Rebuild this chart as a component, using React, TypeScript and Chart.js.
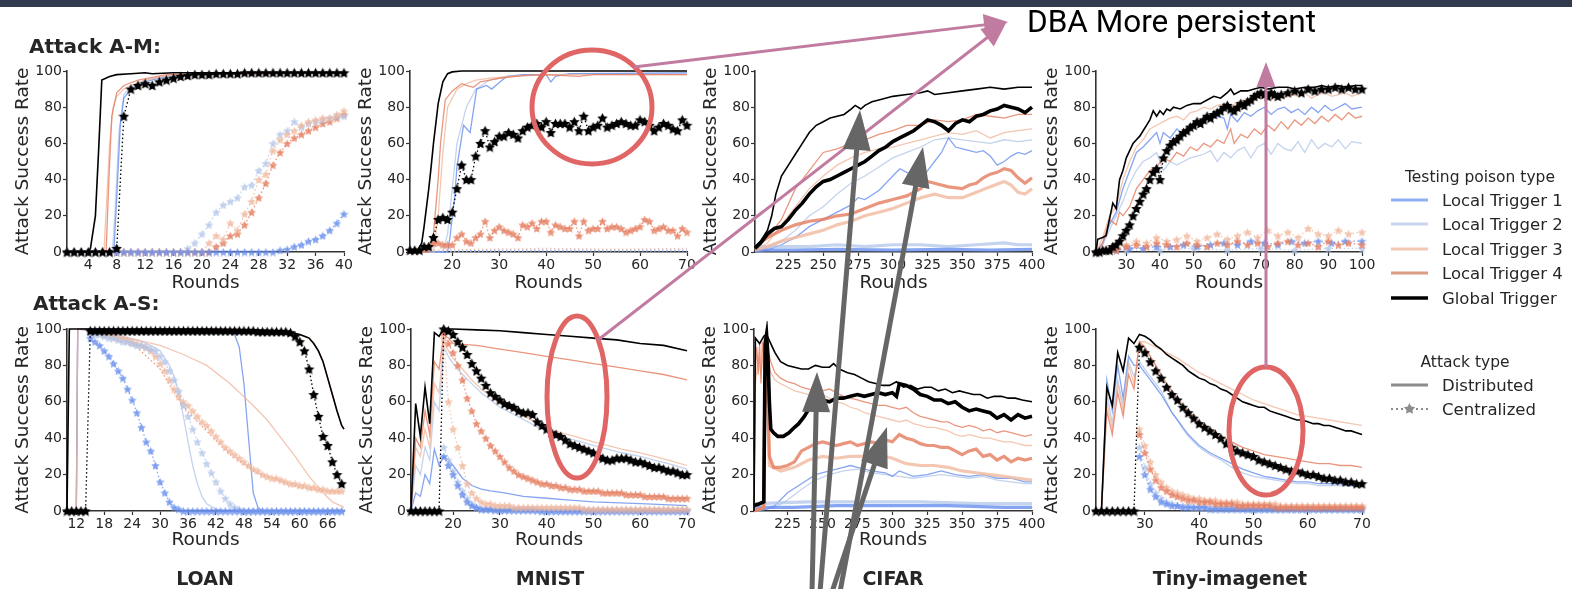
import React, { useEffect, useRef } from 'react';
import { Chart, registerables } from 'chart.js';
Chart.register(...registerables);

type P = [number, number];
const seq = (start: number, vals: number[]): P[] => vals.map((v, i) => [start + i, v] as P);

// ---------------- tick labels ----------------
const Y_TICKS = [0, 20, 40, 60, 80, 100];
const LOAN_AM_TICKS = [4, 8, 12, 16, 20, 24, 28, 32, 36, 40];
const MNIST_TICKS = [20, 30, 40, 50, 60, 70];
const CIFAR_TICKS = [225, 250, 275, 300, 325, 350, 375, 400];
const TINY_AM_TICKS = [30, 40, 50, 60, 70, 80, 90, 100];
const LOAN_AS_TICKS = [12, 18, 24, 30, 36, 42, 48, 54, 60, 66];
const TINY_AS_TICKS = [30, 40, 50, 60, 70];

const LEGEND_TRIGGERS = ['Local Trigger 1', 'Local Trigger 2', 'Local Trigger 3', 'Local Trigger 4', 'Global Trigger'];
const LEGEND_ATTACKS = ['Distributed', 'Centralized'];
const DATASETS = ['LOAN', 'MNIST', 'CIFAR', 'Tiny-imagenet'];

// ---------------- LOAN, Attack A-M ----------------
const LOAN_AM_D_LT1: P[] = [[1,0],[7.6,0],[8,30],[8.5,70],[9,85],[10,90],[12,94],[14,96],[18,98],[24,99],[40,99]];
const LOAN_AM_D_LT2: P[] = [[1,0],[7.4,0],[7.8,25],[8.3,65],[9,87],[10,91],[12,95],[16,98],[40,99]];
const LOAN_AM_D_LT3: P[] = [[1,0],[6.2,0],[6.6,30],[7,60],[7.5,80],[8,86],[9,90],[10,92],[12,95],[16,98],[40,99]];
const LOAN_AM_D_LT4: P[] = [[1,0],[6.5,0],[6.9,40],[7.3,75],[8,88],[9,92],[11,95],[15,98],[40,99]];
const LOAN_AM_D_GL: P[] = [[1,0],[4,0],[4.3,2],[5,20],[5.5,60],[5.9,95],[7,97],[8,98],[10,98.5],[12,99],[13,98.5],[16,99],[40,99]];
const LOAN_AM_C_LT1 = seq(1, [0,0,0,0,0,0,0,0,0,0, 0,0,0,0,0,0,0,0,0,0, 0,0,0,0,0,0,0,0,0,0, 1,1.5,3,4,6,7,9,12,16,21]);
const LOAN_AM_C_LT2 = seq(1, [0,0,0,0,0,0,0,0,0,0, 0,0,0,0,0,0,0, 2,5,10,15,22,26,28,30,36,37,45,49,60,65,67,72,69,71,72,73,74,75,75]);
const LOAN_AM_C_LT3 = seq(1, [0,0,0,0,0,0,0,0,0,0, 0,0,0,0,0,0,0,0,0,0, 5,9,7,16,12,21,28,40,43,56,62,65,67,70,72,73,74,74,76,78]);
const LOAN_AM_C_LT4 = seq(1, [0,0,0,0,0,0,0,0,0,0, 0,0,0,0,0,0,0,0,0,0, 0, 3,5,9,10,15,22,30,38,48,55,60,63,65,67,69,71,72,74,76]);
const LOAN_AM_C_GL = seq(1, [0,0,0,0,0,0,0,2,75,90,92,93,92,94,95,96,97,97.5,98,98,98,98.5,98.5,98.5,98.5,99,99,99,99,99,99,99,99,99,99,99,99,99,99,99]);

// ---------------- MNIST, Attack A-M ----------------
const MNIST_AM_D_LT1: P[] = [[11,0],[19,0],[19.5,8],[20.5,30],[21,47],[22.4,70],[23.8,66],[25.2,90],[27.3,92],[28.4,90],[30.2,94],[31.6,97],[35,98],[40,98],[41,94],[42,97],[45,98.5],[70,99]];
const MNIST_AM_D_LT2: P[] = [[11,0],[18,0],[19,10],[20,35],[21,60],[23,80],[25,90],[28,95],[32,97],[40,98],[70,99]];
const MNIST_AM_D_LT3: P[] = [[11,0],[16,0],[17,20],[18,55],[19,80],[21,90],[23,93],[25,95],[28,96],[32,97],[40,98],[60,98],[70,98]];
const MNIST_AM_D_LT4: P[] = [[11,0],[15,0],[16,10],[17,40],[17.5,60],[18.5,84],[20,89],[22,93],[23,92],[24.5,91],[26,94],[28,95],[30,96],[35,97.5],[40,98],[47,97],[50,98],[70,98]];
const MNIST_AM_D_GL: P[] = [[11,0],[12.5,0],[13.5,5],[14,14],[15,35],[15.5,47],[16,60],[17,82],[18,94],[19,98.5],[20,99.5],[22,100],[70,100]];
const MNIST_AM_C_LT1: P[] = [[11,0],[20,0.5],[30,1],[45,1],[60,1],[70,1]];
const MNIST_AM_C_LT2: P[] = [[11,0],[40,0.5],[70,0.5]];
const MNIST_AM_C_LT3: P[] = [[11,0],[15,1],[25,1.5],[40,2],[55,1.5],[70,2]];
const MNIST_AM_C_LT4 = seq(11, [1,1,1,2,3,5,5,4,4,4, 8,10,6,5,8,10,17,8,12,14, 12,11,10,8,15,14,16,13,17,17, 11,15,14,13,13,17,9,17,12,13, 13,17,13,14,14,13,11,12,13,14, 18,17,12,13,14,12,12,9,13,11]);
const MNIST_AM_C_GL = seq(11, [1,1,1,3,3,8,18,19,18,22, 35,48,40,40,53,60,67,58,61,64, 64,66,65,63,67,69,70,71,69,72, 66,71,71,71,69,72,67,75,67,69, 70,74,69,70,71,72,71,70,70,73, 72,70,67,69,71,70,68,67,73,70]);

// ---------------- CIFAR, Attack A-M ----------------
const CIFAR_AM_D_LT1: P[] = [[201,0],[210,1],[220,4],[230,8],[240,14],[250,18],[260,22],[270,26],[275,30],[280,29],[290,34],[300,42],[305,46],[310,44],[320,40],[325,45],[330,50],[335,55],[340,63],[345,58],[350,57],[355,56],[360,55],[365,56],[370,53],[375,48],[380,50],[385,53],[390,55],[395,54],[400,56]];
const CIFAR_AM_D_LT2: P[] = [[201,0],[210,2],[220,6],[230,12],[240,20],[250,25],[260,32],[270,38],[280,42],[290,47],[300,52],[310,55],[320,58],[330,62],[340,63],[350,62],[360,61],[370,60],[380,62],[390,61],[400,62]];
const CIFAR_AM_D_LT3: P[] = [[201,1],[210,5],[220,15],[230,25],[240,35],[250,42],[260,48],[270,52],[280,55],[290,57],[300,58],[310,60],[320,62],[330,64],[340,66],[350,65],[360,67],[370,63],[380,66],[390,67],[400,68]];
const CIFAR_AM_D_LT4: P[] = [[201,2],[210,8],[220,18],[230,35],[240,45],[250,55],[260,57],[270,60],[280,62],[290,65],[300,67],[310,70],[320,70],[330,73],[340,72],[350,73],[360,76],[370,75],[380,74],[390,76],[400,76]];
const CIFAR_AM_D_GL: P[] = [[201,3],[205,6],[210,12],[213,20],[216,32],[220,42],[225,48],[230,54],[235,60],[240,66],[245,70],[250,72],[255,74],[260,75],[265,76],[270,79],[273,81],[277,79],[280,81],[285,83],[290,84],[300,86],[310,87],[320,88],[325,89],[330,87],[340,88],[350,89],[360,90],[370,91],[380,90],[390,91],[400,91]];
const CIFAR_AM_C_LT1: P[] = [[201,1],[230,1],[260,1.5],[300,1],[340,1.5],[370,1],[400,1.5]];
const CIFAR_AM_C_LT2: P[] = [[201,3],[220,3],[240,3],[260,4],[280,3],[300,4],[320,4],[340,3],[360,4],[380,5],[390,4],[400,4]];
const CIFAR_AM_C_LT3: P[] = [[201,1],[210,3],[220,6],[230,8],[240,10],[250,12],[260,15],[270,17],[280,20],[290,22],[300,24],[310,27],[320,30],[330,32],[340,30],[350,30],[360,33],[370,36],[380,39],[385,37],[390,33],[395,32],[400,35]];
const CIFAR_AM_C_LT4: P[] = [[201,2],[205,5],[210,8],[220,12],[230,15],[240,17],[250,18],[260,20],[270,21],[280,24],[290,27],[300,29],[310,31],[320,35],[325,39],[330,38],[340,36],[350,35],[355,37],[360,38],[365,41],[370,43],[375,44],[380,46],[385,45],[390,41],[395,38],[400,41]];
const CIFAR_AM_C_GL: P[] = [[201,2],[205,5],[210,10],[215,13],[220,14],[225,18],[230,23],[235,27],[240,32],[245,36],[250,39],[255,40],[260,42],[265,44],[270,46],[275,48],[280,50],[285,53],[290,56],[295,58],[300,61],[305,63],[310,65],[315,67],[320,70],[325,73],[330,72],[335,70],[340,67],[345,71],[350,73],[355,72],[360,75],[365,76],[370,78],[375,79],[380,81],[385,80],[390,79],[395,77],[400,80]];

// ---------------- Tiny-imagenet, Attack A-M ----------------
const TINY_AM_D_LT1: P[] = [[21,0],[23,5],[25,15],[27,22],[29,35],[31,45],[33,55],[35,58],[37,62],[39,66],[40,60],[41,66],[43,63],[45,68],[47,65],[49,70],[51,72],[53,73],[55,74],[57,75],[59,74],[60,68],[61,76],[63,72],[65,77],[67,75],[69,78],[71,80],[73,76],[75,79],[77,80],[79,77],[81,79],[83,76],[85,80],[87,77],[89,81],[91,78],[93,80],[95,82],[97,79],[100,80]];
const TINY_AM_D_LT2: P[] = [[21,0],[23,4],[25,12],[27,20],[29,28],[31,38],[33,45],[35,50],[37,52],[39,55],[41,45],[43,50],[45,48],[47,50],[49,52],[51,53],[53,54],[55,56],[57,50],[59,55],[61,52],[63,56],[65,58],[67,52],[69,58],[71,60],[73,54],[75,60],[77,57],[79,56],[81,61],[83,55],[85,62],[87,57],[89,60],[91,58],[93,62],[95,57],[97,61],[100,60]];
const TINY_AM_D_LT3: P[] = [[21,0],[23,8],[25,20],[27,25],[29,40],[31,50],[33,58],[35,62],[37,68],[39,70],[41,72],[43,74],[45,75],[47,73],[49,77],[51,78],[53,80],[55,79],[57,81],[59,82],[61,80],[63,83],[65,84],[67,82],[69,85],[71,86],[73,84],[75,86],[77,85],[79,87],[81,86],[83,88],[85,85],[87,87],[89,88],[91,86],[93,87],[95,88],[97,86],[100,88]];
const TINY_AM_D_LT4: P[] = [[21,0],[23,5],[25,18],[27,15],[28,22],[29,20],[31,25],[33,35],[35,40],[37,45],[39,47],[41,52],[43,50],[45,55],[47,53],[49,58],[51,56],[53,60],[55,58],[57,62],[59,60],[61,68],[62,60],[64,65],[66,63],[68,68],[70,65],[72,70],[74,67],[76,72],[78,68],[80,73],[82,70],[84,74],[86,71],[88,75],[90,72],[92,76],[94,73],[96,77],[98,74],[100,75]];
const TINY_AM_D_GL: P[] = [[21,0],[21.5,7],[23,8],[24,9],[25,18],[26,27],[27,24],[28,40],[29,45],[30,52],[31,56],[32,60],[33,62],[34,64],[35,67],[36,70],[37,73],[38,78],[39,75],[40,78],[41,76],[42,79],[43,78],[44,80],[46,79],[48,81],[50,82],[52,82],[54,84],[56,86],[58,85],[60,88],[61,90],[62,87],[64,89],[66,89],[68,90],[70,91],[72,90],[75,91],[78,91],[80,90],[83,91],[86,91],[88,92],[90,91],[93,92],[95,91],[98,92],[100,92]];
const TINY_AM_C_LT1: P[] = [[21,0],[27,1],[31,2],[35,2],[39,3],[43,3],[47,4],[51,3],[55,4],[59,5],[63,4],[67,6],[71,5],[75,4],[79,6],[83,5],[87,6],[91,5],[95,6],[100,6]];
const TINY_AM_C_LT2: P[] = [[21,0],[30,1],[40,1],[50,2],[60,1],[70,2],[80,1],[90,2],[100,2]];
const TINY_AM_C_LT3: P[] = [[27,2],[30,4],[33,6],[36,5],[39,8],[42,6],[45,7],[48,9],[51,6],[54,8],[57,10],[60,7],[63,9],[66,11],[69,8],[72,12],[75,9],[78,11],[81,8],[84,13],[87,10],[90,9],[93,12],[96,10],[100,11]];
const TINY_AM_C_LT4: P[] = [[21,0],[24,1],[27,1],[30,3],[33,4],[36,3],[39,5],[42,4],[45,3],[48,5],[51,4],[54,3],[57,5],[60,4],[63,6],[66,4],[69,5],[72,3],[75,5],[78,6],[81,4],[84,5],[87,3],[90,6],[93,4],[96,5],[100,4]];
const TINY_AM_C_GL: P[] = [[21,0],[22,0],[23,1],[24,1],[25,1],[26,3],[27,4],[28,6],[29,9],[30,12],[31,15],[32,20],[33,24],[34,28],[35,32],[36,35],[37,40],[38,44],[39,46],[40,40],[41,52],[42,56],[43,59],[44,61],[45,62],[46,64],[47,66],[48,67],[49,69],[50,70],[51,72],[52,71],[53,73],[54,75],[55,74],[56,76],[57,77],[58,78],[59,80],[60,81],[61,79],[62,78],[63,80],[64,82],[65,81],[66,83],[67,84],[68,86],[69,87],[70,88],[71,87],[72,86],[73,88],[74,87],[75,86],[76,87],[78,88],[80,89],[82,88],[84,90],[86,89],[88,90],[90,90],[92,91],[94,90],[96,91],[98,90],[100,90]];

// ---------------- LOAN, Attack A-S ----------------
const LOAN_AS_D_LT1: P[] = [[10,0],[12,0],[12.3,100],[20,100],[30,100],[40,99.5],[45,99],[46,97],[47,90],[48,70],[49,40],[50,10],[51,2],[52,0],[69.5,0]];
const LOAN_AS_D_LT2: P[] = [[10,0],[12,0],[12.3,100],[15,99],[20,97],[25,94],[28,91],[30,88],[32,80],[33,74],[34,65],[35,52],[36,38],[37,25],[38,15],[39,8],[40,4],[42,1],[44,0],[69.5,0]];
const LOAN_AS_D_LT3: P[] = [[10,0],[12,0],[12.3,100],[15,99],[20,96],[25,94],[30,91],[35,86],[40,80],[45,70],[50,58],[53,50],[56,40],[59,30],[62,19],[65,10],[67,5],[69.5,2]];
const LOAN_AS_D_LT4: P[] = [[10,0],[12,0],[12.3,100],[20,100],[30,100],[40,100],[50,99.5],[56,99],[58,98],[60,97],[61,96],[62,95],[63,92],[64,88],[65,82],[66,73],[67,64],[68,55],[69,47],[69.5,45]];
const LOAN_AS_D_GL: P[] = [[10,0],[10.5,100],[20,100],[30,100],[40,100],[50,99.5],[56,99],[58,98],[60,97],[61,96],[62,95],[63,92],[64,88],[65,82],[66,73],[67,64],[68,55],[69,47],[69.5,45]];
const LOAN_AS_C_LT1 = seq(15, [95,93,91,88,85,81,77,73,67,61, 54,46,38,33,25,16,10,5,2,1, 0, 0,0,0,0,0,0,0,0,0,0, 0,0,0,0,0,0,0,0,0,0, 0,0,0,0,0,0,0,0,0,0, 0,0,0,0]);
const LOAN_AS_C_LT2 = seq(15, [98,97,97,96,95,95,94,93,93,92, 91,91,90,89,88,85,82,77,72,66, 58,52,45,38,32,26,21,16,11,7, 4,2,1,0, 0,0,0,0,0,0,0,0,0,0, 0,0,0,0,0,0,0,0,0,0, 0]);
const LOAN_AS_C_LT3 = seq(15, [99,98,98,97,97,96,95,95,94,93, 92,91,90,88,85,81,77,72,67,63, 60,58,55,52,49,47,44,41,38,35, 33,31,29,27,25,23,22,20,19,18, 18,17,16,15,15,14,14,13,13,12, 12,11,11,11,11]);
const LOAN_AS_C_LT4: P[] = [[15,98],[25,90],[30,78],[35,57],[40,44],[45,31],[50,22],[55,17],[60,13],[65,11],[69,10]];
const LOAN_AS_C_GL = seq(10, [0,0,0,0,0, 99, 99,99,99,99,99,99,99,99,99,99, 99,99,99,99,99,99,99,99,99,99, 99,99,99,99,99,99,99,99,99,99, 99,99,99,99,99,98.5,98.5,98.5,98.5,98.5, 98.5,98.5, 98,96,93,88,78,64,52,41,36,27,20,15]);

// ---------------- MNIST, Attack A-S ----------------
const MNIST_AS_D_LT1: P[] = [[11,0],[12,10],[13,8],[14,20],[15,15],[16,34],[17,25],[18,30],[19,28],[20,25],[22,18],[24,14],[26,12],[28,11],[31,10],[35,8],[40,7],[45,6],[50,5],[60,4],[70,3]];
const MNIST_AS_D_LT2: P[] = [[11,0],[12,25],[13,20],[14,35],[15,28],[16,60],[17,55],[18,90],[19,85],[20,81],[22,75],[24,70],[26,65],[28,61],[30,57],[33,53],[36,49],[38,46],[40,44],[43,41],[46,39],[50,36],[53,34],[56,32],[60,30],[63,28],[66,26],[70,23]];
const MNIST_AS_D_LT3: P[] = [[11,0],[12,35],[13,30],[14,45],[15,35],[16,70],[17,65],[18,93],[19,88],[20,84],[22,78],[24,72],[26,67],[28,63],[30,59],[33,55],[36,51],[38,48],[40,46],[43,43],[46,41],[50,38],[53,36],[56,34],[60,32],[63,30],[66,28],[70,25]];
const MNIST_AS_D_LT4: P[] = [[11,0],[12,40],[13,35],[14,55],[15,42],[16,82],[17,78],[18,97],[19,95],[20,92],[25,91],[30,89],[35,87],[40,85],[45,83],[50,81],[55,79],[60,77],[65,75],[70,72]];
const MNIST_AS_D_GL: P[] = [[11,0],[12,59],[13,41],[14,68],[15,48],[16,98],[17,96],[18,100],[20,100],[25,99.5],[30,99],[35,98],[40,97],[45,96],[50,95],[55,94],[60,92],[65,91],[70,88]];
const MNIST_AS_C_LT1 = seq(18, [30,25,20,14,9,5,3,2,1,1, 1,0.5,0.5,0.5,0.5,0.5,0.5,0.5,0.5,0.5, 0.5,0,0,0,0,0,0,0,0,0, 0,0,0,0,0,0,0,0,0,0, 0,0,0,0,0,0,0,0,0,0, 0,0,0]);
const MNIST_AS_C_LT2 = seq(18, [35,28,22,16,11,7,4,2,1,1, 1,1,1,1,1,1,1,1,1,1, 0.5,0.5,0.5,0.5,0.5,0.5,0.5,0.5,0.5,0.5, 0.5,0.5,0.5,0.5,0.5,0.5,0.5,0.5,0.5,0.5, 0.5,0.5,0.5,0.5,0.5,0.5,0.5,0.5,0.5,0.5, 0.5,0.5,0.5]);
const MNIST_AS_C_LT3 = seq(18, [95,60,45,35,25,15,10,7,5,4, 4,3,3,3,3,2,2,2,2,2, 2,2,2,2,2,2,2,2,2,2, 1,1,1,1,1,1,1,1,1,1, 1,1,1,1,1,1,1,1,1,1, 1,1,1]);
const MNIST_AS_C_LT4 = seq(18, [98,92,87,80,72,62,55,48,44,40, 36,33,30,27,24,22,20,19,18,17, 16,15,15,14,14,13,13,12,12,12, 11,11,11,11,10,10,10,10,10,9, 9,9,9,8,8,8,8,8,7,7, 7,7,7]);
const MNIST_AS_C_GL = seq(11, [0,0,0,0,0,0,0, 100,99,97,93,90,86,81,77,73,69,65,63,61,59,58,57,55,54,54,53,49,47,45,43,42,41,39,37,36,35,34,33,32,30,29,28,28,29,29,29,28,27,27,26,25,24,24,23,22,22,21,20,20]);

// ---------------- CIFAR, Attack A-S ----------------
const CIFAR_AS_D_LT1: P[] = [[201,0],[210,1],[216,3],[225,10],[235,15],[245,20],[255,22],[265,24],[270,25],[275,24],[285,22],[295,21],[300,19],[305,22],[315,19],[325,20],[335,22],[345,20],[355,19],[365,20],[375,18],[385,18],[395,16],[400,16]];
const CIFAR_AS_D_LT2: P[] = [[201,0],[210,1],[216,2],[225,6],[235,12],[245,17],[255,20],[265,22],[275,23],[285,21],[295,20],[305,19],[315,18],[325,19],[335,20],[345,19],[355,18],[365,19],[375,17],[385,16],[395,15],[400,15]];
const CIFAR_AS_D_LT3: P[] = [[201,0],[202,70],[204,85],[206,75],[208,90],[210,88],[213,76],[216,72],[220,70],[225,68],[230,66],[235,65],[240,64],[245,63],[250,64],[255,62],[260,60],[265,59],[270,57],[275,56],[280,54],[285,53],[290,52],[295,51],[300,50],[305,49],[310,50],[315,48],[320,47],[325,46],[330,46],[335,45],[340,44],[345,42],[350,41],[355,42],[360,41],[365,40],[370,40],[375,39],[380,38],[385,38],[390,37],[395,36],[400,36]];
const CIFAR_AS_D_LT4: P[] = [[201,0],[202,80],[203,90],[204,75],[205,92],[206,70],[207,93],[208,85],[209,95],[211,88],[213,82],[216,76],[220,73],[225,71],[230,70],[235,68],[240,67],[245,66],[250,66],[255,67],[260,65],[265,63],[270,62],[275,61],[280,60],[285,59],[290,58],[295,58],[300,57],[305,56],[310,57],[315,54],[320,52],[325,51],[330,50],[335,49],[340,49],[345,47],[350,46],[355,47],[360,46],[365,44],[370,45],[375,43],[380,44],[385,43],[390,42],[395,41],[400,42]];
const CIFAR_AS_D_GL: P[] = [[201,0],[202,95],[205,92],[208,96],[210,97],[213,92],[216,87],[220,82],[225,80],[230,79],[235,78],[240,78],[245,80],[250,79],[255,79],[258,81],[262,78],[268,76],[273,75],[278,73],[283,71],[288,70],[293,69],[298,69],[303,71],[308,68],[313,69],[318,67],[323,68],[328,68],[333,66],[338,67],[343,65],[348,66],[353,65],[358,64],[363,64],[368,62],[373,63],[378,63],[383,62],[388,62],[393,61],[400,60]];
const CIFAR_AS_C_LT1: P[] = [[201,2],[230,2],[260,3],[300,3],[340,3],[380,2],[400,2]];
const CIFAR_AS_C_LT2: P[] = [[201,4],[240,5],[280,5],[320,5],[360,4],[400,4]];
const CIFAR_AS_C_LT3: P[] = [[201,0],[208,2],[209,85],[210,80],[212,25],[220,22],[230,24],[240,28],[250,30],[260,29],[270,30],[280,30],[290,31],[300,29],[310,26],[320,25],[330,25],[340,24],[350,22],[360,21],[370,20],[380,19],[390,18],[400,17]];
const CIFAR_AS_C_LT4: P[] = [[201,0],[208,2],[209,92],[210,90],[211,60],[212,30],[215,24],[220,24],[225,25],[230,27],[235,33],[240,35],[245,37],[250,38],[255,37],[260,36],[265,37],[270,38],[275,36],[280,37],[285,38],[290,37],[295,39],[300,38],[305,42],[310,40],[315,39],[320,37],[325,36],[330,36],[335,35],[340,35],[345,33],[350,31],[355,33],[360,34],[365,30],[370,31],[375,28],[380,30],[385,27],[390,29],[395,28],[400,29]];
const CIFAR_AS_C_GL: P[] = [[201,3],[205,4],[208,5],[209,92],[210,97],[211,85],[212,60],[213,45],[215,43],[218,41],[222,41],[226,43],[230,46],[233,48],[237,52],[241,57],[245,61],[250,61],[255,60],[260,62],[265,62],[270,63],[275,64],[280,63],[285,64],[290,65],[295,64],[300,65],[303,63],[305,70],[310,69],[315,67],[320,64],[325,63],[330,61],[335,61],[340,59],[345,60],[350,57],[355,55],[360,56],[365,55],[370,54],[375,51],[380,53],[385,50],[390,53],[395,51],[400,52]];

// ---------------- Tiny-imagenet, Attack A-S ----------------
const TINY_AS_D_LT1: P[] = [[21,0],[22,0],[23,72],[24,55],[25,80],[26,62],[27,85],[28,80],[29,80],[30,76],[31,72],[32,68],[33,64],[34,59],[35,54],[36,50],[37,46],[38,42],[39,39],[40,36],[42,32],[44,29],[46,26],[48,23],[50,21],[52,19],[54,18],[56,17],[58,16],[60,16],[62,15],[64,15],[66,15],[68,14],[70,14]];
const TINY_AS_D_LT2: P[] = [[21,0],[22,0],[23,65],[24,48],[25,72],[26,58],[27,82],[28,74],[29,82],[30,78],[31,74],[32,70],[33,66],[34,60],[35,54],[36,50],[37,45],[38,41],[39,38],[40,35],[42,31],[44,28],[46,24],[48,21],[50,19],[52,18],[54,17],[56,16],[58,15],[60,15],[62,14],[64,14],[66,14],[68,14],[70,14]];
const TINY_AS_D_LT3: P[] = [[21,0],[22,0],[23,60],[24,45],[25,70],[26,55],[27,80],[28,70],[29,93],[30,93],[32,90],[34,87],[36,84],[38,80],[40,76],[42,73],[44,70],[46,67],[48,64],[50,61],[52,59],[54,57],[56,55],[58,53],[60,52],[62,51],[64,50],[66,49],[68,48],[70,47]];
const TINY_AS_D_LT4: P[] = [[21,0],[22,0],[23,55],[24,42],[25,65],[26,52],[27,75],[28,67],[29,93],[30,90],[31,85],[32,80],[33,75],[34,70],[35,66],[36,62],[37,58],[38,55],[39,52],[40,49],[42,45],[44,41],[46,38],[48,35],[50,33],[52,31],[54,30],[56,29],[58,28],[60,27],[62,26],[64,26],[66,25],[68,25],[70,24]];
const TINY_AS_D_GL: P[] = [[21,0],[22,0],[23,68],[24,58],[25,87],[26,77],[27,95],[28,92],[29,97],[30,96],[31,94],[32,91],[33,89],[34,86],[35,84],[36,82],[37,80],[38,77],[39,75],[40,73],[41,72],[42,70],[43,69],[44,67],[45,66],[46,64],[47,62],[48,60],[49,59],[50,58],[51,57],[52,57],[53,55],[54,54],[55,53],[56,52],[57,51],[58,50],[59,50],[60,49],[61,48],[62,48],[63,47],[64,47],[65,46],[66,45],[67,44],[68,44],[69,43],[70,42]];
const TINY_AS_C_LT1 = seq(29, [30,20,12,8,5,4,3,3,2,2, 2,2,2,1,1,1,1,1,1,1, 1,1,1,1,1,1,1,1,1,1, 1,1,1,1,1,1,1,1,1,1, 1,1]);
const TINY_AS_C_LT2 = seq(29, [35,24,15,10,7,5,4,3,3,3, 2,2,2,2,2,2,2,2,2,2, 1,1,1,1,1,1,1,1,1,1, 1,1,1,1,1,1,1,1,1,1, 1,1]);
const TINY_AS_C_LT3 = seq(29, [45,36,27,20,16,13,11,10,9,8, 7,7,6,6,6,5,5,5,5,4, 4,4,4,4,4,4,3,3,3,3, 3,3,3,3,3,3,3,3,3,3, 3,3]);
const TINY_AS_C_LT4 = seq(29, [42,32,23,17,13,11,9,8,7,6, 6,5,5,5,4,4,4,4,3,3, 3,3,3,3,3,2,2,2,2,2, 2,2,2,2,2,2,2,2,2,2, 2,2]);
const TINY_AS_C_GL = seq(21, [0,0,0,0,0,0,0,0, 90,87,82,77,73,68,64,61,57,54,51,48,46,44,42,40,37,35,33,32,31,30,28,27,26,25,24,23,22,22,21,20,20,19,18,18,17,17,16,16,15,15]);

// ---------------- styles ----------------
const COL_LT1 = 'rgba(104,143,238,0.8)';
const COL_LT2 = 'rgba(176,196,232,0.75)';
const COL_LT3 = 'rgba(240,183,156,0.78)';
const COL_LT4 = 'rgba(229,124,94,0.8)';
const COL_GL = '#000000';
const TEXT = '#262626';
const FONT = 'DejaVu Sans';

type Kind = 'D' | 'C' | 'T' | 'N';
type S = [P[], string, Kind];

type PanelCfg = { left: number; top: number; w: number; h: number; xmin: number; xmax: number; ticks: number[]; axisH: number; series: S[] };

const PANELS: PanelCfg[] = [
  { left: 67, top: 71, w: 277, h: 181, xmin: 1, xmax: 40, ticks: LOAN_AM_TICKS, axisH: 42, series: [
    [LOAN_AM_D_LT2, COL_LT2, 'D'], [LOAN_AM_D_LT1, COL_LT1, 'D'], [LOAN_AM_D_LT3, COL_LT3, 'D'], [LOAN_AM_D_LT4, COL_LT4, 'D'],
    [LOAN_AM_C_LT4, COL_LT4, 'C'], [LOAN_AM_C_LT2, COL_LT2, 'C'], [LOAN_AM_C_LT3, COL_LT3, 'C'], [LOAN_AM_C_LT1, COL_LT1, 'C'],
    [LOAN_AM_D_GL, COL_GL, 'D'], [LOAN_AM_C_GL, COL_GL, 'C'] ] },
  { left: 410, top: 71, w: 277, h: 181, xmin: 11, xmax: 70, ticks: MNIST_TICKS, axisH: 42, series: [
    [MNIST_AM_D_LT2, COL_LT2, 'D'], [MNIST_AM_D_LT1, COL_LT1, 'D'], [MNIST_AM_D_LT3, COL_LT3, 'D'], [MNIST_AM_D_LT4, COL_LT4, 'D'],
    [MNIST_AM_C_LT1, COL_LT1, 'N'], [MNIST_AM_C_LT2, COL_LT2, 'N'], [MNIST_AM_C_LT3, COL_LT3, 'N'], [MNIST_AM_C_LT4, COL_LT4, 'C'],
    [MNIST_AM_D_GL, COL_GL, 'D'], [MNIST_AM_C_GL, COL_GL, 'C'] ] },
  { left: 755, top: 71, w: 277, h: 181, xmin: 201, xmax: 400, ticks: CIFAR_TICKS, axisH: 42, series: [
    [CIFAR_AM_D_LT2, COL_LT2, 'D'], [CIFAR_AM_D_LT1, COL_LT1, 'D'], [CIFAR_AM_D_LT3, COL_LT3, 'D'], [CIFAR_AM_D_LT4, COL_LT4, 'D'],
    [CIFAR_AM_C_LT2, COL_LT2, 'T'], [CIFAR_AM_C_LT1, COL_LT1, 'T'], [CIFAR_AM_C_LT3, COL_LT3, 'T'], [CIFAR_AM_C_LT4, COL_LT4, 'T'],
    [CIFAR_AM_D_GL, COL_GL, 'D'], [CIFAR_AM_C_GL, COL_GL, 'T'] ] },
  { left: 1096, top: 71, w: 266, h: 181, xmin: 21, xmax: 100, ticks: TINY_AM_TICKS, axisH: 42, series: [
    [TINY_AM_D_LT2, COL_LT2, 'D'], [TINY_AM_D_LT1, COL_LT1, 'D'], [TINY_AM_D_LT3, COL_LT3, 'D'], [TINY_AM_D_LT4, COL_LT4, 'D'],
    [TINY_AM_C_LT2, COL_LT2, 'C'], [TINY_AM_C_LT1, COL_LT1, 'C'], [TINY_AM_C_LT3, COL_LT3, 'C'], [TINY_AM_C_LT4, COL_LT4, 'C'],
    [TINY_AM_D_GL, COL_GL, 'D'], [TINY_AM_C_GL, COL_GL, 'C'] ] },
  { left: 67, top: 329, w: 277, h: 182, xmin: 10, xmax: 69.5, ticks: LOAN_AS_TICKS, axisH: 40, series: [
    [LOAN_AS_D_LT4, COL_LT4, 'D'], [LOAN_AS_D_LT2, COL_LT2, 'D'], [LOAN_AS_D_LT1, COL_LT1, 'D'], [LOAN_AS_D_LT3, COL_LT3, 'D'],
    [LOAN_AS_C_LT4, COL_LT4, 'N'], [LOAN_AS_C_LT3, COL_LT3, 'C'], [LOAN_AS_C_LT2, COL_LT2, 'C'], [LOAN_AS_C_LT1, COL_LT1, 'C'],
    [LOAN_AS_D_GL, COL_GL, 'D'], [LOAN_AS_C_GL, COL_GL, 'C'] ] },
  { left: 411, top: 329, w: 276, h: 182, xmin: 11, xmax: 70, ticks: MNIST_TICKS, axisH: 40, series: [
    [MNIST_AS_D_LT1, COL_LT1, 'D'], [MNIST_AS_D_LT2, COL_LT2, 'D'], [MNIST_AS_D_LT3, COL_LT3, 'D'], [MNIST_AS_D_LT4, COL_LT4, 'D'],
    [MNIST_AS_C_LT2, COL_LT2, 'C'], [MNIST_AS_C_LT1, COL_LT1, 'C'], [MNIST_AS_C_LT3, COL_LT3, 'C'], [MNIST_AS_C_LT4, COL_LT4, 'C'],
    [MNIST_AS_D_GL, COL_GL, 'D'], [MNIST_AS_C_GL, COL_GL, 'C'] ] },
  { left: 754, top: 329, w: 278, h: 182, xmin: 201, xmax: 400, ticks: CIFAR_TICKS, axisH: 40, series: [
    [CIFAR_AS_D_LT2, COL_LT2, 'D'], [CIFAR_AS_D_LT1, COL_LT1, 'D'], [CIFAR_AS_D_LT3, COL_LT3, 'D'], [CIFAR_AS_D_LT4, COL_LT4, 'D'],
    [CIFAR_AS_C_LT2, COL_LT2, 'T'], [CIFAR_AS_C_LT1, COL_LT1, 'T'], [CIFAR_AS_C_LT3, COL_LT3, 'T'], [CIFAR_AS_C_LT4, COL_LT4, 'T'],
    [CIFAR_AS_D_GL, COL_GL, 'D'], [CIFAR_AS_C_GL, COL_GL, 'T'] ] },
  { left: 1096, top: 329, w: 266, h: 182, xmin: 21, xmax: 70, ticks: TINY_AS_TICKS, axisH: 40, series: [
    [TINY_AS_D_LT2, COL_LT2, 'D'], [TINY_AS_D_LT1, COL_LT1, 'D'], [TINY_AS_D_LT3, COL_LT3, 'D'], [TINY_AS_D_LT4, COL_LT4, 'D'],
    [TINY_AS_C_LT2, COL_LT2, 'C'], [TINY_AS_C_LT1, COL_LT1, 'C'], [TINY_AS_C_LT3, COL_LT3, 'C'], [TINY_AS_C_LT4, COL_LT4, 'C'],
    [TINY_AS_D_GL, COL_GL, 'D'], [TINY_AS_C_GL, COL_GL, 'C'] ] },
];

const Y_AXIS_W = 55;
const PAD_TOP = 8;
const PAD_RIGHT = 14;

const starCache: Record<string, HTMLCanvasElement> = {};
function starImage(color: string, size: number): HTMLCanvasElement {
  const key = color + '|' + size;
  if (starCache[key]) return starCache[key];
  const c = document.createElement('canvas');
  c.width = size; c.height = size;
  const ctx = c.getContext('2d')!;
  ctx.fillStyle = color;
  ctx.beginPath();
  const R = size / 2, r = R * 0.5;
  for (let i = 0; i < 10; i++) {
    const a = -Math.PI / 2 + (i * Math.PI) / 5;
    const rad = i % 2 === 0 ? R : r;
    ctx.lineTo(R + rad * Math.cos(a), R + 0.5 + rad * Math.sin(a));
  }
  ctx.closePath();
  ctx.fill();
  starCache[key] = c;
  return c;
}

function makeDataset(points: P[], color: string, kind: Kind) {
  const isGl = color === COL_GL;
  const base: any = {
    data: points.map(([x, y]) => ({ x, y })),
    borderColor: color, backgroundColor: color, fill: false, tension: 0, clip: false,
    pointHoverRadius: 0, pointRadius: 0,
  };
  if (kind === 'D') return { ...base, borderWidth: isGl ? 1.6 : 1.3 };
  if (kind === 'T') return { ...base, borderWidth: isGl ? 3.6 : 3.2 };
  if (kind === 'N') return { ...base, borderWidth: 1.3, borderDash: [1.5, 2.5] };
  return { ...base, borderWidth: 1.3, borderDash: [1.5, 2.5], pointRadius: 4, pointStyle: starImage(color, isGl ? 11 : 9) };
}

function Panel({ cfg }: { cfg: PanelCfg }) {
  const ref = useRef<HTMLCanvasElement>(null);
  const cw = Y_AXIS_W + cfg.w + PAD_RIGHT;
  const ch = PAD_TOP + cfg.h + cfg.axisH;
  useEffect(() => {
    const datasets = cfg.series.map(([d, c, k]) => makeDataset(d, c, k)).reverse();
    const tickFont = { family: FONT, size: 14 };
    const titleFont = { family: FONT, size: 18.5 };
    const chart = new Chart(ref.current!, {
      type: 'line',
      data: { datasets },
      options: {
        responsive: false, animation: false, devicePixelRatio: 1,
        layout: { padding: { top: PAD_TOP, right: PAD_RIGHT, left: 0, bottom: 0 } },
        plugins: { legend: { display: false }, tooltip: { enabled: false } },
        scales: {
          x: {
            type: 'linear', min: cfg.xmin, max: cfg.xmax,
            afterBuildTicks: (a: any) => { a.ticks = cfg.ticks.map((v) => ({ value: v })); },
            afterFit: (a: any) => { a.height = cfg.axisH; a.paddingLeft = 0; a.paddingRight = 0; },
            grid: { drawOnChartArea: false, drawTicks: true, tickLength: 4, tickColor: '#333', tickWidth: 1.2 },
            border: { display: true, color: '#333', width: 1.6 },
            ticks: { font: tickFont, color: TEXT, padding: 1, maxRotation: 0, autoSkip: false },
            title: { display: true, text: 'Rounds', font: titleFont, color: TEXT, padding: 0 },
          },
          y: {
            type: 'linear', min: 0, max: 100,
            afterBuildTicks: (a: any) => { a.ticks = Y_TICKS.map((v) => ({ value: v })); },
            afterFit: (a: any) => { a.width = Y_AXIS_W; a.paddingTop = 0; a.paddingBottom = 0; },
            grid: { drawOnChartArea: false, drawTicks: true, tickLength: 4, tickColor: '#333', tickWidth: 1.2 },
            border: { display: true, color: '#333', width: 1.6 },
            ticks: { font: tickFont, color: TEXT, padding: 1 },
            title: { display: true, text: 'Attack Success Rate', font: titleFont, color: TEXT, padding: 0 },
          },
        },
      } as any,
    });
    return () => chart.destroy();
  }, []);
  return (
    <canvas ref={ref} width={cw} height={ch}
      style={{ position: 'absolute', left: cfg.left - Y_AXIS_W, top: cfg.top - PAD_TOP, width: cw, height: ch }} />
  );
}

function Arrow({ x1, y1, x2, y2, color, width, hl, hw }: any) {
  const dx = x2 - x1, dy = y2 - y1, L = Math.hypot(dx, dy);
  const ux = dx / L, uy = dy / L;
  const bx = x2 - ux * hl, by = y2 - uy * hl;
  const px = -uy, py = ux;
  const pts = `${x2},${y2} ${bx + (px * hw) / 2},${by + (py * hw) / 2} ${bx - (px * hw) / 2},${by - (py * hw) / 2}`;
  return (
    <g>
      <line x1={x1} y1={y1} x2={bx + ux * 2} y2={by + uy * 2} stroke={color} strokeWidth={width} />
      <polygon points={pts} fill={color} />
    </g>
  );
}

const LEG_COLORS = ['#8fb0f2', '#c8d5ea', '#f0c8b4', '#dd9c84', '#000000'];

export default function App() {
  const starPts = (cx: number, cy: number, R: number) => {
    const out: string[] = [];
    for (let i = 0; i < 10; i++) {
      const a = -Math.PI / 2 + (i * Math.PI) / 5;
      const rad = i % 2 === 0 ? R : R * 0.5;
      out.push(`${cx + rad * Math.cos(a)},${cy + rad * Math.sin(a)}`);
    }
    return out.join(' ');
  };
  const datasetX = [205, 550, 893, 1230];
  const legendRows = [200, 224, 249, 273, 298];
  const pink = '#c27ba0';
  const red = '#e06666';
  const gray = '#666666';
  return (
    <div style={{ position: 'absolute', left: 0, top: 0, width: 1572, height: 589, background: '#ffffff', overflow: 'hidden' }}>
      <div style={{ position: 'absolute', left: 0, top: 0, width: 1572, height: 7, background: '#323a4e' }} />
      {PANELS.map((p, i) => <Panel key={i} cfg={p} />)}
      <svg width={1572} height={589} style={{ position: 'absolute', left: 0, top: 0, pointerEvents: 'none' }}>
        <text x={29} y={53} fontFamily={FONT} fontWeight="bold" fontSize={20} fill={TEXT}>Attack A-M:</text>
        <text x={33} y={310} fontFamily={FONT} fontWeight="bold" fontSize={20} fill={TEXT}>Attack A-S:</text>
        {DATASETS.map((d, i) => (
          <text key={d} x={datasetX[i]} y={585} textAnchor="middle" fontFamily={FONT} fontWeight="bold" fontSize={19} fill={TEXT}>{d}</text>
        ))}
        <text x={1480} y={181.5} textAnchor="middle" fontFamily={FONT} fontSize={15.5} fill={TEXT}>Testing poison type</text>
        {LEGEND_TRIGGERS.map((t, i) => (
          <g key={t}>
            <line x1={1391} x2={1428} y1={legendRows[i]} y2={legendRows[i]} stroke={LEG_COLORS[i]} strokeWidth={i === 4 ? 3.5 : 3} />
            <text x={1442} y={legendRows[i] + 6} fontFamily={FONT} fontSize={16.5} fill={TEXT}>{t}</text>
          </g>
        ))}
        <text x={1465} y={367} textAnchor="middle" fontFamily={FONT} fontSize={15.5} fill={TEXT}>Attack type</text>
        <line x1={1391} x2={1428} y1={385} y2={385} stroke="#8c8c8c" strokeWidth={3} />
        <text x={1442} y={391} fontFamily={FONT} fontSize={16.5} fill={TEXT}>{LEGEND_ATTACKS[0]}</text>
        <line x1={1391} x2={1428} y1={409} y2={409} stroke="#8c8c8c" strokeWidth={2} strokeDasharray="2 3" />
        <polygon points={starPts(1409.5, 409, 6)} fill="#8c8c8c" />
        <text x={1442} y={415} fontFamily={FONT} fontSize={16.5} fill={TEXT}>{LEGEND_ATTACKS[1]}</text>

        <text x={1027} y={32} fontFamily="Roboto" fontSize={31.5} fill="#000000">DBA More persistent</text>

        <ellipse cx={592} cy={107} rx={60} ry={57} fill="none" stroke={red} strokeWidth={5} />
        <ellipse cx={577} cy={397} rx={30} ry={81} fill="none" stroke={red} strokeWidth={5} />
        <ellipse cx={1266} cy={431} rx={37} ry={64} fill="none" stroke={red} strokeWidth={5} />

        <Arrow x1={634} y1={67} x2={1008} y2={22} color={pink} width={3} hl={24} hw={22} />
        <Arrow x1={598} y1={340} x2={1006} y2={23} color={pink} width={3} hl={24} hw={22} />
        <Arrow x1={1266} y1={367} x2={1266} y2={62} color={pink} width={3} hl={25} hw={19} />

        <Arrow x1={812} y1={592} x2={817} y2={372} color={gray} width={5} hl={40} hw={28} />
        <Arrow x1={820} y1={592} x2={860} y2={110} color={gray} width={5} hl={40} hw={28} />
        <Arrow x1={832} y1={592} x2={887} y2={427} color={gray} width={5} hl={40} hw={28} />
        <Arrow x1={840} y1={592} x2={923} y2={147} color={gray} width={5} hl={40} hw={28} />
      </svg>
    </div>
  );
}
